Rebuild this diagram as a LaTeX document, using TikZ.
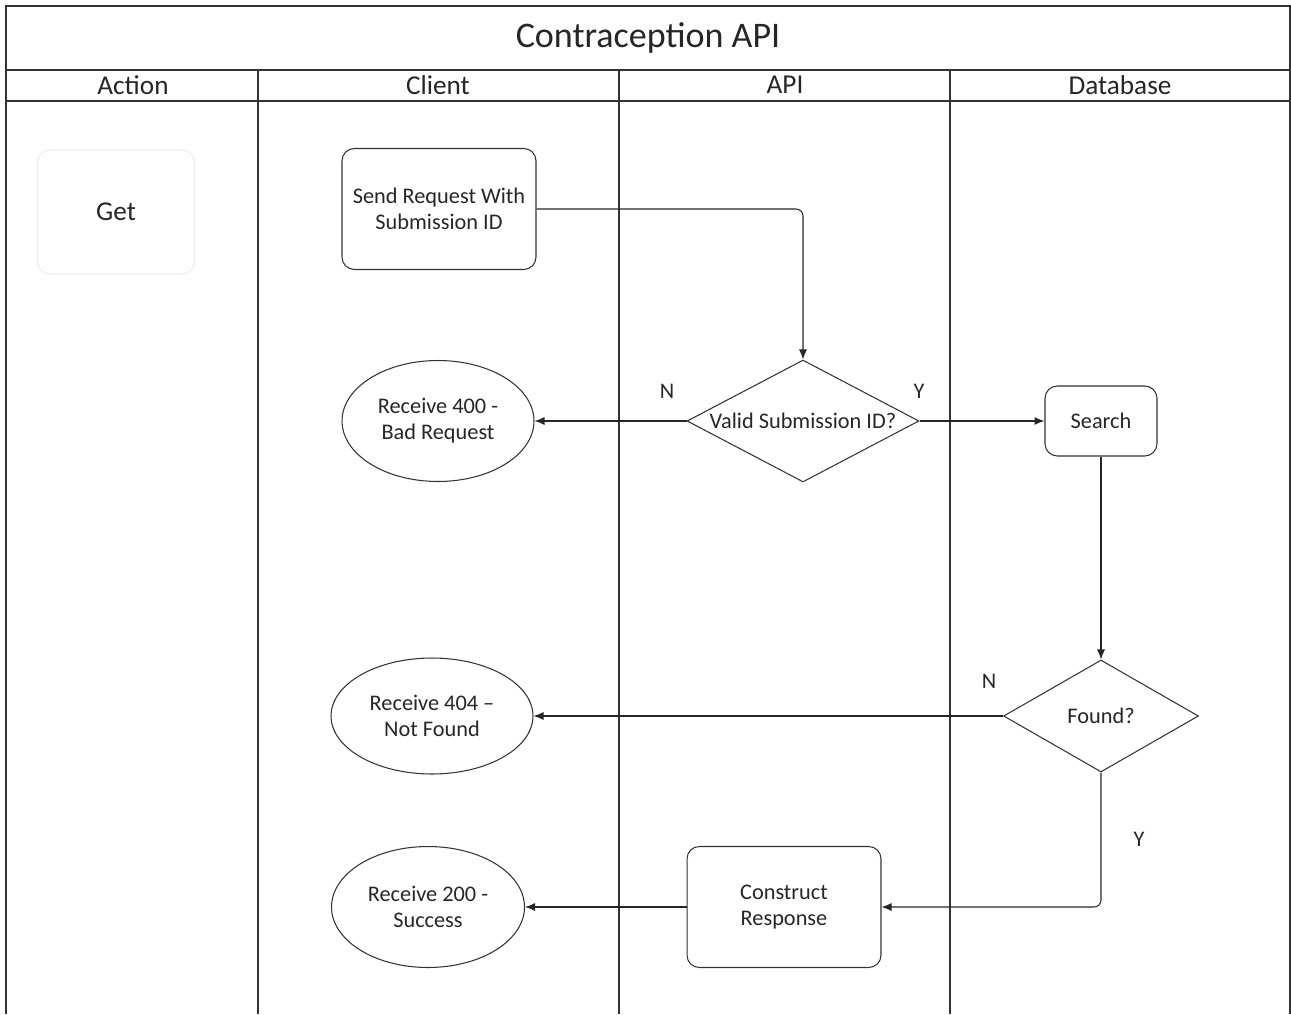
\documentclass[tikz,border=0pt]{standalone}
\usepackage{fontspec}
\setmainfont{Carlito}
\usetikzlibrary{arrows,arrows.meta,shapes}

\begin{document}
\begin{tikzpicture}[x=0.02cm,y=-0.02cm,
  lane/.style={line width=.8pt,draw=black!80},
  txt/.style={text=black!85,font=\fontsize{12.7}{14.8}\selectfont,align=center},
  head/.style={txt,font=\fontsize{15.5}{17}\selectfont},
  proc/.style={txt,draw=black!80,line width=.6pt,rounded corners=7pt,inner sep=0pt},
  decide/.style={txt,diamond,draw=black!80,line width=.6pt,inner sep=0pt},
  answer/.style={txt,ellipse,draw=black!80,line width=.6pt,inner sep=0pt},
  flow/.style={line width=.6pt,draw=black!85,-{Latex[length=2mm,width=1.6mm]}},
  yn/.style={txt}]
\useasboundingbox (0,0) rectangle (1291,1014);
% swimlane frame
\draw[lane] (6,1014)--(6,6)--(1290,6)--(1290,1014);
\draw[lane] (6,70)--(1290,70);
\draw[lane] (6,101)--(1290,101);
\foreach \x in {258,619,950}
  \draw[lane] (\x,70)--(\x,1014);
\node[txt,font=\fontsize{20.5}{22}\selectfont] (title) at (648,38) {Contraception API};
\node[head] (hAction) at (133,85) {Action};
\node[head] (hClient) at (438,85) {Client};
\node[head] (hApi) at (785,85) {API};
\node[head] (hDb) at (1120,85) {Database};
% nodes
\node[proc,draw=black!7,font=\fontsize{15.5}{17}\selectfont,minimum width=3.14cm,minimum height=2.48cm] (get) at (116,212) {Get};
\node[proc,minimum width=3.88cm,minimum height=2.42cm] (send) at (439,209) {Send Request With\\Submission ID};
\node[decide,minimum width=4.64cm,minimum height=2.44cm,aspect=1.9] (valid) at (803,421) {Valid Submission ID?};
\node[answer,minimum width=3.84cm,minimum height=2.42cm] (bad) at (438,421) {Receive 400 -\\Bad Request};
\node[proc,minimum width=2.24cm,minimum height=1.4cm] (search) at (1101,421) {Search};
\node[decide,minimum width=3.9cm,minimum height=2.24cm] (found) at (1101,716) {Found?};
\node[answer,minimum width=4.04cm,minimum height=2.32cm] (notfound) at (432,716) {Receive 404 –\\Not Found};
\node[proc,minimum width=3.88cm,minimum height=2.42cm] (construct) at (784,907) {Construct\\Response};
\node[answer,minimum width=3.86cm,minimum height=2.42cm] (ok) at (428,907) {Receive 200 -\\Success};
% connectors
\draw[flow,rounded corners=4pt] (send.east) -| (valid.north);
\draw[flow] (valid.west) -- (bad.east);
\draw[flow] (valid.east) -- (search.west);
\draw[flow] (search.south) -- (found.north);
\draw[flow] (found.west) -- (notfound.east);
\draw[flow,rounded corners=4pt] (found.south) |- (construct.east);
\draw[flow] (construct.west) -- (ok.east);
\node[yn] (n1) at (667,391) {N};
\node[yn] (y1) at (919,391) {Y};
\node[yn] (n2) at (989,681) {N};
\node[yn] (y2) at (1139,839) {Y};
\end{tikzpicture}
\end{document}
